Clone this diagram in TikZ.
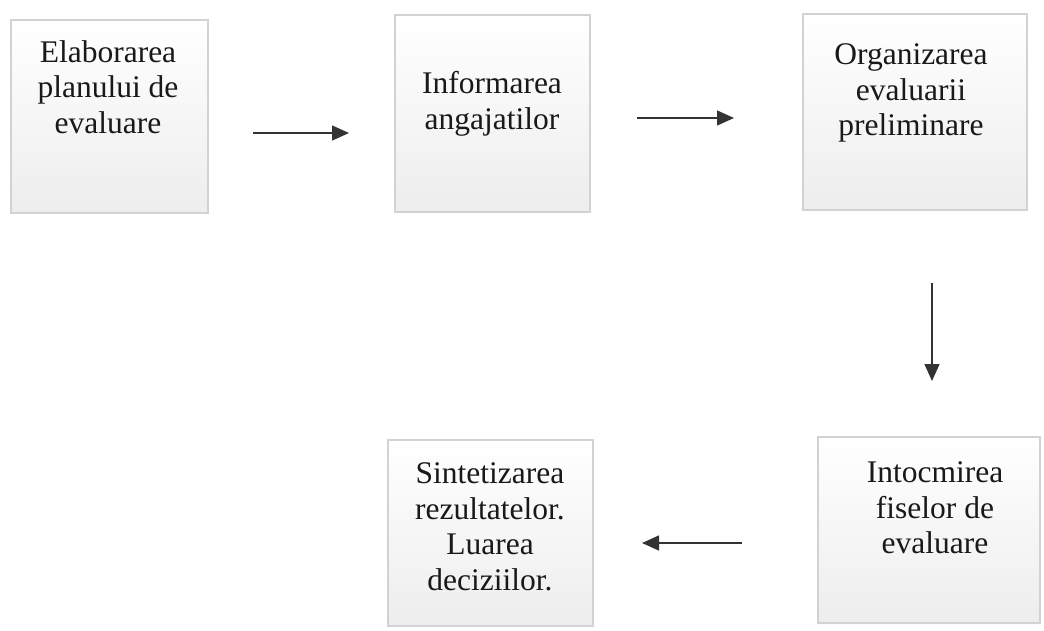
\documentclass[tikz,border=0pt]{standalone}
\usepackage{fontspec}
\setmainfont{Liberation Serif}
\usetikzlibrary{arrows.meta}
\begin{document}
\begin{tikzpicture}[x=1pt,y=-1pt,
  stepbox/.style={rectangle, draw=gray!35, line width=1.2pt, top color=white, bottom color=gray!14, inner sep=0pt},
  steptext/.style={align=center, font=\fontsize{31.5}{35.5}\selectfont, text=black!90, inner sep=0pt},
  flow/.style={draw=black!80, line width=1.3pt, -{Triangle[length=17pt,width=15pt]}}]
\useasboundingbox (0,0) rectangle (1044,630);
% boxes
\node[stepbox, minimum width=197pt, minimum height=193pt] (b1) at (109.5,116.5) {};
\node[stepbox, minimum width=195pt, minimum height=197pt] (b2) at (492.5,113.5) {};
\node[stepbox, minimum width=224pt, minimum height=196pt] (b3) at (915,112) {};
\node[stepbox, minimum width=205pt, minimum height=186pt] (b4) at (490.5,533) {};
\node[stepbox, minimum width=222pt, minimum height=186pt] (b5) at (929,530) {};
% texts
\node[steptext] (t1) at (108,87) {Elaborarea\\planului de\\evaluare};
\node[steptext] (t2) at (492,104) {Informarea\\angajatilor};
\node[steptext] (t3) at (911,93) {Organizarea\\evaluarii\\preliminare};
\node[steptext] (t4) at (490,527) {Sintetizarea\\rezultatelor.\\Luarea\\deciziilor.};
\node[steptext] (t5) at (935,508) {Intocmirea\\fiselor de\\evaluare};
% arrow end points
\coordinate (a1s) at (253,133);
\coordinate (a1e) at (349,133);
\coordinate (a2s) at (637,118);
\coordinate (a2e) at (734,118);
\coordinate (a3s) at (932,283);
\coordinate (a3e) at (932,381);
\coordinate (a4s) at (742,543);
\coordinate (a4e) at (642,543);
\draw[flow] (a1s) -- (a1e);
\draw[flow] (a2s) -- (a2e);
\draw[flow] (a3s) -- (a3e);
\draw[flow] (a4s) -- (a4e);
\end{tikzpicture}
\end{document}
